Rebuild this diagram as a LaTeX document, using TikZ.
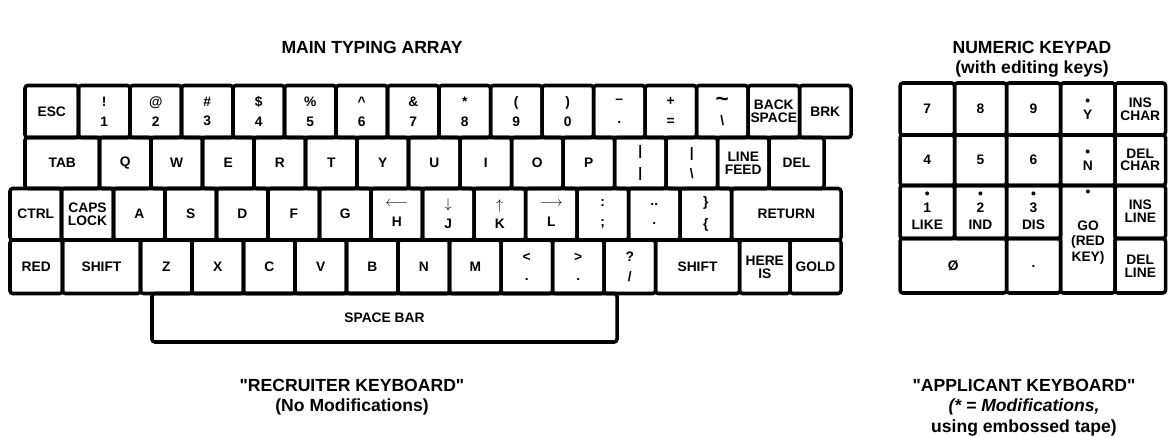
\documentclass[tikz,border=0pt]{standalone}
\usepackage{fontspec}
\setmainfont{Liberation Sans}

\newcommand\kbfont{\fontsize{9.8}{9}\selectfont\bfseries}
\newcommand\kbtitle{\fontsize{12.5}{13}\selectfont\bfseries}
\newcommand\kbpair[2]{#1\\[5pt]#2}

\tikzset{
  key/.style={line width=2.5pt, rounded corners=2pt},
  keylabel/.style={font=\kbfont, align=center, inner sep=0pt},
  kbcaption/.style={font=\kbtitle, align=center, inner sep=0pt}
}

\begin{document}
\begin{tikzpicture}[x=0.025cm, y=-0.025cm]
  \useasboundingbox (0,0) rectangle (1168,438);

  \node[kbcaption] (main) at (372,47) {MAIN TYPING ARRAY};
  \node[kbcaption] (numeric) at (1032,47) {NUMERIC KEYPAD};
  \node[kbcaption] (editing) at (1032,69) {(with editing keys)};

  % main typing array, row by row
  \foreach \kn/\xa/\xb/\txt in {esc/25/78.5/ESC, k1/78.5/130/{\kbpair{!}{1}},
      k2/130/181.5/{\kbpair{@}{2}}, k3/181.5/233/{\kbpair{\#}{3}},
      k4/233/284.5/{\kbpair{\$}{4}}, k5/284.5/336/{\kbpair{\%}{5}},
      k6/336/387.5/{\kbpair{\textasciicircum}{6}}, k7/387.5/439/{\kbpair{\&}{7}},
      k8/439/490.5/{\kbpair{*}{8}}, k9/490.5/542/{\kbpair{(}{9}},
      k0/542/593.5/{\kbpair{)}{0}}, minus/593.5/645/{\kbpair{--}{.}},
      equal/645/696.5/{\kbpair{+}{=}},
      tilde/696.5/748/{\kbpair{{\fontsize{16}{9}\selectfont\textasciitilde}}{\textbackslash}},
      bksp/748/799.5/{BACK\\SPACE}, brk/799.5/851/BRK}
  {
    \draw[key] (\xa,85.5) rectangle (\xb,137.5);
    \node[keylabel] (\kn) at ({(\xa+\xb)/2},111.5) {\txt};
  }

  \foreach \kn/\xa/\xb/\txt in {tab/25/99.5/TAB, q/99.5/151/Q, w/151/202.5/W,
      e/202.5/254/E, r/254/305.5/R, t/305.5/357/T, y/357/408.5/Y,
      u/408.5/460/U, i/460/511.5/I, o/511.5/563/O, p/563/614.5/P,
      bar/614.5/666/{\kbpair{|}{|}}, bslash/666/717.5/{\kbpair{|}{\textbackslash}},
      lf/717.5/769/{LINE\\FEED}, del/769/824/DEL}
  {
    \draw[key] (\xa,137.5) rectangle (\xb,188.5);
    \node[keylabel] (\kn) at ({(\xa+\xb)/2},163) {\txt};
  }

  \foreach \kn/\xa/\xb/\txt in {ctrl/10/61.5/CTRL, caps/61.5/113.5/{CAPS\\LOCK},
      a/113.5/165/A, s/165/216.5/S, d/216.5/268/D, f/268/319.5/F,
      g/319.5/371/G, h/371/422.5/{\kbpair{$\longleftarrow$}{H}},
      j/422.5/474/{\kbpair{$\downarrow$}{J}}, k/474/525.5/{\kbpair{$\uparrow$}{K}},
      l/525.5/577/{\kbpair{$\longrightarrow$}{L}}, colon/577/628.5/{\kbpair{:}{;}},
      quote/628.5/680/{\kbpair{..}{.}}, brace/680/731.5/{\kbpair{\}}{\{}},
      ret/731.5/841/RETURN}
  {
    \draw[key] (\xa,188.5) rectangle (\xb,240);
    \node[keylabel] (\kn) at ({(\xa+\xb)/2},214) {\txt};
  }

  \foreach \kn/\xa/\xb/\txt in {red/10/62.5/RED, lshift/62.5/140.5/SHIFT,
      z/140.5/192/Z, x/192/243.5/X, c/243.5/295/C, v/295/346.5/V,
      b/346.5/398/B, n/398/449.5/N, m/449.5/501/M,
      less/501/552.5/{\kbpair{<}{.}}, greater/552.5/604/{\kbpair{>}{.}},
      slash/604/655.5/{\kbpair{?}{/}}, rshift/655.5/739.5/SHIFT,
      here/739.5/790/{HERE\\IS}, gold/790/841/GOLD}
  {
    \draw[key] (\xa,240) rectangle (\xb,293.5);
    \node[keylabel] (\kn) at ({(\xa+\xb)/2},267) {\txt};
  }

  \draw[key] (152,293.5) rectangle (617,342);
  \node[keylabel] (space) at (384.5,318) {SPACE BAR};

  % numeric keypad
  \foreach \kn/\xa/\xb/\txt in {kp7/900/954.5/7, kp8/954.5/1006.5/8,
      kp9/1006.5/1060.5/9, kpy/1060.5/1115/{\textbullet\\[1pt]Y},
      inschar/1115/1165.5/{INS\\CHAR}}
  {
    \draw[key] (\xa,83) rectangle (\xb,135);
    \node[keylabel] (\kn) at ({(\xa+\xb)/2},109) {\txt};
  }

  \foreach \kn/\xa/\xb/\txt in {kp4/900/954.5/4, kp5/954.5/1006.5/5,
      kp6/1006.5/1060.5/6, kpn/1060.5/1115/{\textbullet\\[1pt]N},
      delchar/1115/1165.5/{DEL\\CHAR}}
  {
    \draw[key] (\xa,135) rectangle (\xb,185.5);
    \node[keylabel] (\kn) at ({(\xa+\xb)/2},160) {\txt};
  }

  \foreach \kn/\xa/\xb/\txt in {kp1/900/954.5/{\textbullet\\[1pt]1\\[3pt]LIKE},
      kp2/954.5/1006.5/{\textbullet\\[1pt]2\\[3pt]IND},
      kp3/1006.5/1060.5/{\textbullet\\[1pt]3\\[3pt]DIS},
      insline/1115/1165.5/{INS\\LINE}}
  {
    \draw[key] (\xa,185.5) rectangle (\xb,238.5);
    \node[keylabel] (\kn) at ({(\xa+\xb)/2},211) {\txt};
  }

  \foreach \kn/\xa/\xb/\txt in {kp0/900/1006.5/Ø, kpdot/1006.5/1060.5/.,
      delline/1115/1165.5/{DEL\\LINE}}
  {
    \draw[key] (\xa,238.5) rectangle (\xb,293);
    \node[keylabel] (\kn) at ({(\xa+\xb)/2},266) {\txt};
  }

  \draw[key] (1060.5,185.5) rectangle (1115,293);
  \node[keylabel] (godot) at (1088,193) {\textbullet};
  \node[keylabel] (go) at (1088,243) {GO\\[1.5pt](RED\\[1.5pt]KEY)};

  % captions
  \node[kbcaption] (recruiter) at (352,385) {\textquotedbl RECRUITER KEYBOARD\textquotedbl};
  \node[kbcaption] (nomod) at (352,407) {(No Modifications)};
  \node[kbcaption] (applicant) at (1024,385) {\textquotedbl APPLICANT KEYBOARD\textquotedbl};
  \node[kbcaption] (mods) at (1024,407) {\itshape (* = Modifications,};
  \node[kbcaption] (tape) at (1024,428) {using embossed tape)};
\end{tikzpicture}
\end{document}
